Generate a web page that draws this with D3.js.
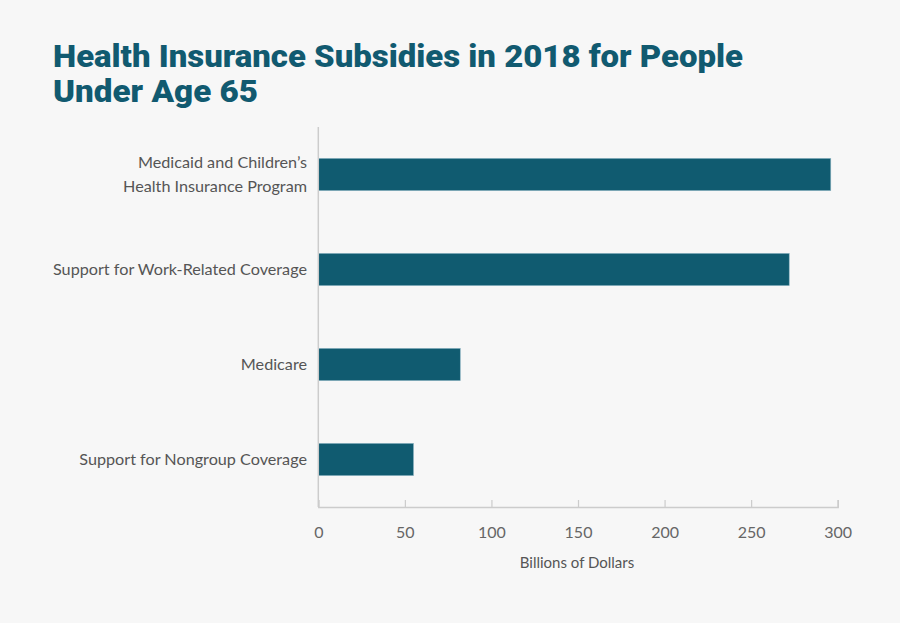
<!DOCTYPE html>
<html>
<head>
<meta charset="utf-8">
<script src="https://cdn.jsdelivr.net/npm/d3@7"></script>
<style>
  html, body { margin: 0; padding: 0; background: #f7f7f7; }
  svg { display: block; }
</style>
</head>
<body>
<div id="chart"></div>
<script>
const categories = [
  ["Medicaid and Children\u2019s", "Health Insurance Program"],
  ["Support for Work-Related Coverage"],
  ["Medicare"],
  ["Support for Nongroup Coverage"]
];
const values = [296, 272, 82, 55];
const xTicks = [0, 50, 100, 150, 200, 250, 300];
const titleLines = ["Health Insurance Subsidies in 2018 for People", "Under Age 65"];
const xAxisTitle = "Billions of Dollars";

const W = 900, H = 623;
const svg = d3.select("#chart").append("svg").attr("width", W).attr("height", H);
svg.append("rect").attr("width", W).attr("height", H).attr("fill", "#f7f7f7");

const titleColor = "#115a70";
const barColor = "#105b70";

// Title
const t1 = svg.append("text").attr("x", 53).attr("y", 67)
  .attr("font-family", "Roboto, 'Liberation Sans', sans-serif")
  .attr("font-weight", 900).attr("font-size", 32).attr("fill", titleColor)
  .text(titleLines[0]);
t1.attr("textLength", 690).attr("lengthAdjust", "spacingAndGlyphs");
const t2 = svg.append("text").attr("x", 53).attr("y", 102)
  .attr("font-family", "Roboto, 'Liberation Sans', sans-serif")
  .attr("font-weight", 900).attr("font-size", 32).attr("fill", titleColor)
  .text(titleLines[1]);
t2.attr("textLength", 205).attr("lengthAdjust", "spacingAndGlyphs");

const x = d3.scaleLinear().domain([0, 300]).range([318.3, 837.7]);
const y = d3.scaleBand().domain(d3.range(categories.length)).range([127, 507])
  .paddingInner(0.66).paddingOuter(0.33);

// Bars
svg.append("g").selectAll("rect").data(values).join("rect")
  .attr("x", x(0))
  .attr("y", (d, i) => y(i))
  .attr("width", d => x(d) - x(0))
  .attr("height", y.bandwidth())
  .attr("fill", barColor)
  .attr("stroke", "#8fb6c3").attr("stroke-width", 0.6);

// Y axis line
svg.append("line").attr("x1", x(0)).attr("x2", x(0)).attr("y1", 127).attr("y2", 507)
  .attr("stroke", "#cccccc").attr("stroke-width", 1.5);

// X axis
const xAxis = d3.axisBottom(x).tickValues(xTicks).tickSize(-7).tickPadding(20).tickFormat(d3.format("d"));
const gx = svg.append("g").attr("transform", "translate(0,507)").call(xAxis);
gx.select(".domain").attr("stroke", "#cccccc").attr("stroke-width", 1.5);
gx.selectAll(".tick line").attr("stroke", "#cccccc").attr("stroke-width", 1.2);
gx.selectAll(".tick text").attr("font-family", "Lato, 'Open Sans', sans-serif")
  .attr("font-size", 16).attr("fill", "#666");

// Category labels
const lab = svg.append("g").selectAll("text").data(categories).join("text")
  .attr("text-anchor", "end")
  .attr("font-family", "Lato, 'Open Sans', sans-serif")
  .attr("font-size", 16.2).attr("fill", "#555")
  .attr("transform", (d, i) => `translate(307,${y(i) + y.bandwidth() / 2})`);
lab.each(function(d) {
  const n = d.length;
  d3.select(this).selectAll("tspan").data(d).join("tspan")
    .attr("x", 0)
    .attr("y", (s, j) => (j - (n - 1) / 2) * 24)
    .attr("dy", "0.35em")
    .text(s => s);
});

// X axis title
svg.append("text").attr("x", 577).attr("y", 563).attr("dy", "0.35em")
  .attr("text-anchor", "middle")
  .attr("font-family", "Lato, 'Open Sans', sans-serif")
  .attr("font-size", 15).attr("fill", "#555")
  .text(xAxisTitle);
</script>
</body>
</html>
